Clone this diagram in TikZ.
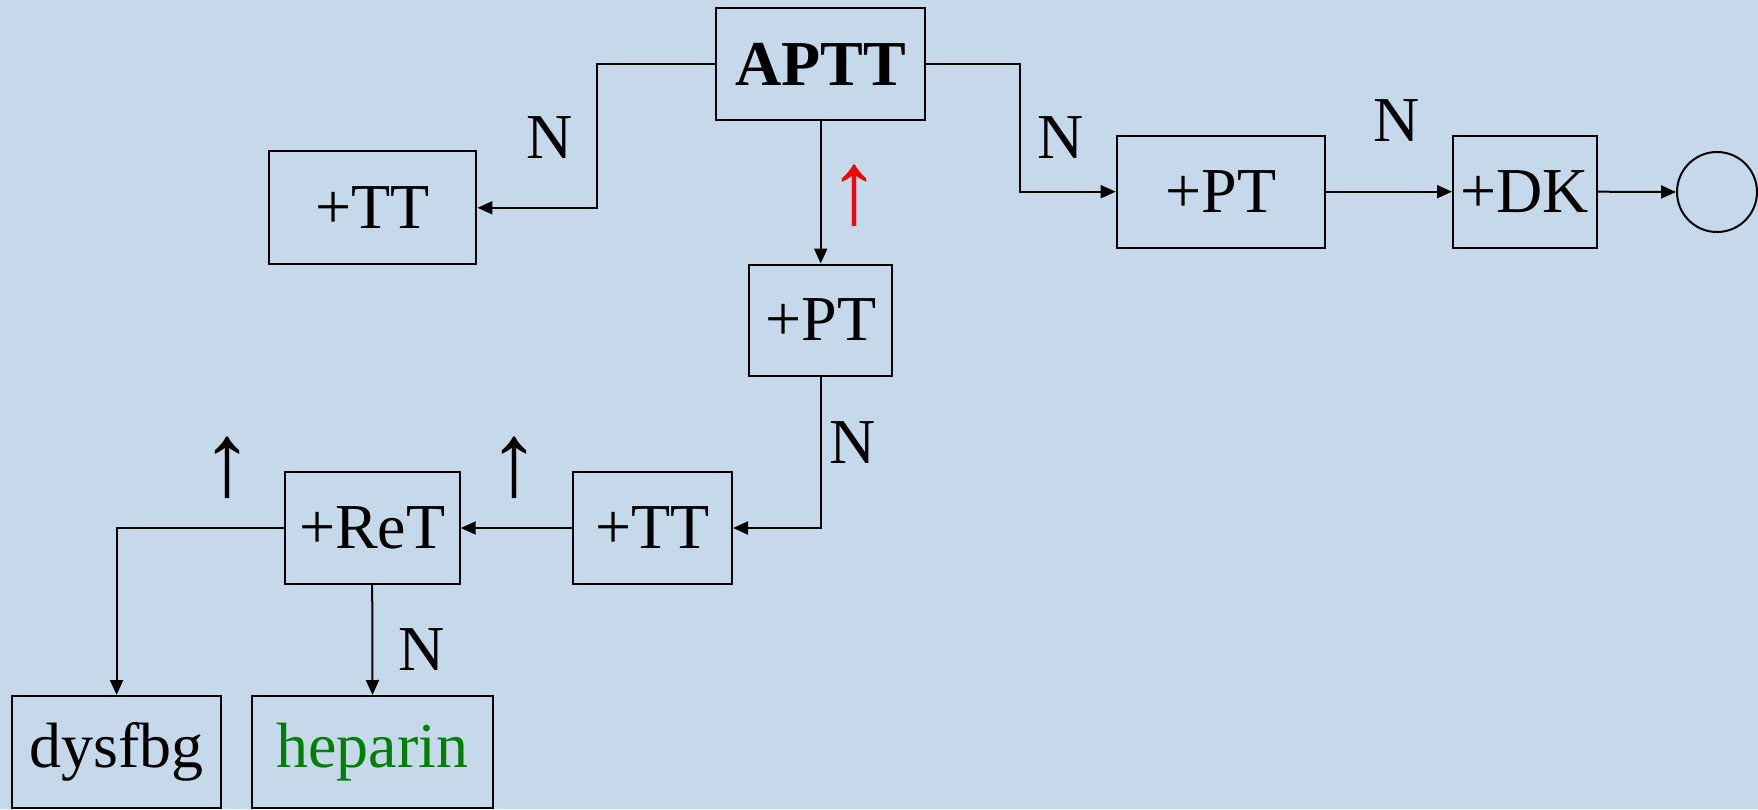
\documentclass[tikz,border=0pt]{standalone}
\usepackage{fontspec}
\setmainfont{Liberation Serif}
\usetikzlibrary{arrows.meta}
\definecolor{bg}{RGB}{197,217,235}
\definecolor{grn}{RGB}{0,128,0}
\begin{document}
\begin{tikzpicture}[x=1pt,y=-1pt,
  box/.style={draw,line width=2pt,inner sep=0pt,font=\fontsize{64}{70}\selectfont},
  lab/.style={inner sep=0pt,font=\fontsize{64}{70}\selectfont},
  uparr/.style={inner sep=0pt,font=\fontsize{104}{110}\selectfont},
  conn/.style={line width=2pt,-{Triangle[length=15pt,width=13pt]}}]
\fill[bg] (0,0) rectangle (1758,809);
\useasboundingbox (0,0) rectangle (1758,809);
\node[box,minimum width=208.5pt,minimum height=112pt,font=\fontsize{64}{70}\selectfont\bfseries] (aptt) at (820.7,64) {APTT};
\node[box,minimum width=207.5pt,minimum height=113pt] (tt1) at (372.7,207.8) {+TT};
\node[box,minimum width=143.5pt,minimum height=111pt] (pt1) at (820.7,320) {+PT};
\node[box,minimum width=208.6pt,minimum height=112pt] (pt2) at (1221,191.7) {+PT};
\node[box,minimum width=143.6pt,minimum height=112pt] (dk) at (1524.8,191.7) {+DK};
\node[draw,line width=2pt,circle,minimum size=80pt,inner sep=0pt] (end) at (1717,192) {};
\node[box,minimum width=159pt,minimum height=112pt] (tt2) at (652.5,528) {+TT};
\node[box,minimum width=175pt,minimum height=112pt] (ret) at (372.2,528) {+ReT};
\node[box,minimum width=209pt,minimum height=112pt] (dys) at (116.6,752) {dysfbg};
\node[box,minimum width=240.4pt,minimum height=112pt,text=grn] (hep) at (372.5,752) {heparin};
% connectors
\draw[conn] (aptt.west) -- (596.5,64) |- (tt1.east);
\draw[conn] (aptt.east) -- (1020.3,64) |- (pt2.west);
\draw[conn] (pt2.east) -- (dk.west);
\draw[conn] (dk.east) -- (end.west);
\draw[conn] (aptt.south) -- (pt1.north);
\draw[conn] (pt1.south) |- (tt2.east);
\draw[conn] (tt2.west) -- (ret.east);
\draw[conn] (ret.west) -| (dys.north);
\draw[conn] (ret.south) -- (hep.north);
% labels
\node[lab] (n1) at (549.4,138) {N};
\node[lab] (n2) at (1060.7,138) {N};
\node[lab] (n3) at (1397,121) {N};
\node[lab] (n4) at (853,443) {N};
\node[lab] (n5) at (421.6,650) {N};
\node[uparr,text=red] (u1) at (854,196) {↑};
\node[uparr] (u2) at (514.6,467.6) {↑};
\node[uparr] (u3) at (227.6,467.6) {↑};
\end{tikzpicture}
\end{document}
